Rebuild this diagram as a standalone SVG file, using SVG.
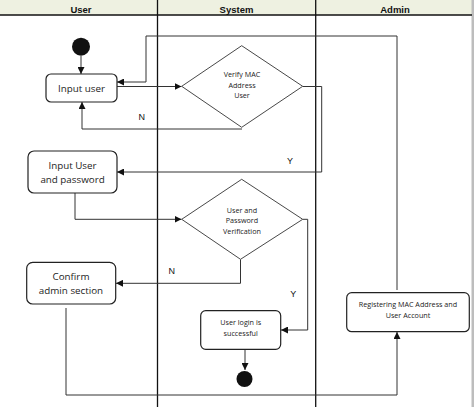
<svg xmlns="http://www.w3.org/2000/svg" width="474" height="407" viewBox="0 0 474 407">
<style>
.lane{stroke:#111;stroke-width:1.3;fill:none}
.box{fill:#fff;stroke:#222;stroke-width:1.2}
.dia{fill:#fff;stroke:#333;stroke-width:0.9}
.c{stroke:#333;stroke-width:1;fill:none}
.ca{stroke:#333;stroke-width:1;fill:none;marker-end:url(#ah)}
.hd{font-family:"Liberation Sans",Arial,sans-serif;font-weight:bold;font-size:9.5px;fill:#111;text-anchor:middle}
.t{font-family:"Open Sans","Liberation Sans",sans-serif;font-size:9.8px;fill:#222;text-anchor:middle}
.s{font-family:"Open Sans","Liberation Sans",sans-serif;font-size:7.2px;fill:#222;text-anchor:middle}
.lb{font-family:"Liberation Sans",Arial,sans-serif;font-size:9px;fill:#111;text-anchor:middle}
</style>
<defs>
<marker id="ah" viewBox="0 0 10 10" refX="10" refY="5" markerWidth="7" markerHeight="7" markerUnits="userSpaceOnUse" orient="auto">
<path d="M0,0 L10,5 L0,10 z" fill="#111"/>
</marker>
</defs>
<rect x="0" y="0" width="474" height="407" fill="#fff"/>
<rect x="0" y="0" width="472" height="15" fill="#eef1e1"/>
<rect x="471.5" y="0" width="2.5" height="407" fill="#bdbdbd"/>
<g id="lanes">
<line class="lane" x1="0" y1="15" x2="472" y2="15"/>
<line class="lane" x1="157.5" y1="0" x2="157.5" y2="407"/>
<line class="lane" x1="315.7" y1="0" x2="315.7" y2="407"/>
<text class="hd" x="81" y="12.5">User</text>
<text class="hd" x="236.5" y="12.5">System</text>
<text class="hd" x="395" y="12.5">Admin</text>
</g>
<g id="connectors">
<line class="ca" x1="81" y1="56" x2="81" y2="74"/>
<polyline class="ca" points="397,290 397,36 146,36 146,82 117,82"/>
<line class="ca" x1="117" y1="86.5" x2="181.5" y2="86.5"/>
<polyline class="ca" points="242,129 82,129 82,102"/>
<polyline class="ca" points="303,86.5 321.7,86.5 321.7,172 117,172"/>
<polyline class="ca" points="75,193 75,219.3 181.5,219.3"/>
<polyline class="ca" points="240.5,259.5 240.5,283.3 116,283.3"/>
<polyline class="ca" points="303,219.3 307.7,219.3 307.7,330 281,330"/>
<line class="ca" x1="245" y1="349.5" x2="245" y2="370"/>
<polyline class="ca" points="66,308 66,395 397,395 397,332"/>
<text class="lb" x="141.7" y="120">N</text>
<text class="lb" x="290" y="164">Y</text>
<text class="lb" x="171.7" y="274">N</text>
<text class="lb" x="293.3" y="297">Y</text>
</g>
<g id="start"><circle cx="81" cy="46.7" r="9" fill="#111"/></g>
<g id="input-user">
<rect class="box" x="46" y="74" width="71" height="28" rx="5"/>
<text class="t" x="81.5" y="91.5">Input  user</text>
</g>
<g id="verify-mac">
<polygon class="dia" points="181.7,86.3 241.7,45.7 302.7,86.3 241.7,127.3"/>
<text class="s" x="242" y="77">Verify MAC</text>
<text class="s" x="242" y="88">Address</text>
<text class="s" x="242" y="98">User</text>
</g>
<g id="input-user-password">
<rect class="box" x="28" y="151" width="89" height="42" rx="6"/>
<text class="t" x="72.5" y="169">Input  User</text>
<text class="t" x="72.5" y="183">and password</text>
</g>
<g id="password-verification">
<polygon class="dia" points="181.7,219.3 241.7,179.3 302.7,219.3 240.5,259.3"/>
<text class="s" x="242" y="212.5">User and</text>
<text class="s" x="242" y="223">Password</text>
<text class="s" x="242" y="233.5">Verification</text>
</g>
<g id="confirm-admin">
<rect class="box" x="26.7" y="262.3" width="89" height="41.7" rx="6"/>
<text class="t" x="71" y="280">Confirm</text>
<text class="t" x="71" y="294">admin section</text>
</g>
<g id="login-success">
<rect class="box" x="200.7" y="310.7" width="80" height="38.6" rx="5"/>
<text class="s" x="240.7" y="325">User login is</text>
<text class="s" x="240.7" y="336">successful</text>
</g>
<g id="end"><circle cx="244.5" cy="379" r="8" fill="#111"/></g>
<g id="register">
<rect class="box" x="346.7" y="292.7" width="122.6" height="39" rx="5"/>
<text class="s" x="408" y="307">Registering MAC Address and</text>
<text class="s" x="408" y="318">User Account</text>
</g>
</svg>
